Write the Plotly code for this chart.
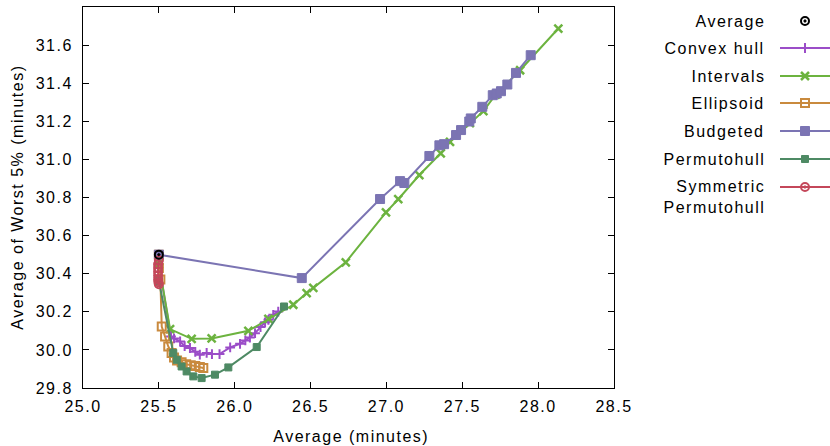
import plotly.graph_objects as go

# ---------------- data ----------------
avg_x = [25.50]
avg_y = [30.50]

convex_x = [25.50, 25.58, 25.60, 25.64, 25.67, 25.705, 25.74, 25.77, 25.815, 25.85, 25.90, 25.97, 26.035, 26.07, 26.10, 26.134, 26.17, 26.20, 26.222, 26.254, 26.287]
convex_y = [30.45, 30.07, 30.06, 30.044, 30.02, 30.01, 29.99, 29.975, 29.984, 29.978, 29.978, 30.013, 30.032, 30.05, 30.065, 30.088, 30.12, 30.145, 30.158, 30.184, 30.201]

intervals_x = [25.50, 25.574, 25.716, 25.848, 26.090, 26.222, 26.386, 26.474, 26.518, 26.732, 26.997, 27.078, 27.217, 27.358, 27.419, 27.55, 27.639, 27.72, 27.881, 28.133]
intervals_y = [30.45, 30.109, 30.058, 30.060, 30.100, 30.163, 30.237, 30.298, 30.326, 30.460, 30.722, 30.791, 30.918, 31.032, 31.092, 31.19, 31.253, 31.34, 31.468, 31.687]

ellipsoid_x = [25.50, 25.50, 25.51, 25.519, 25.541, 25.562, 25.584, 25.60, 25.62, 25.65, 25.68, 25.71, 25.74, 25.77, 25.793]
ellipsoid_y = [30.50, 30.43, 30.37, 30.123, 30.07, 30.018, 29.984, 29.96, 29.945, 29.935, 29.925, 29.92, 29.915, 29.91, 29.905]

budgeted_x = [25.50, 26.442, 26.958, 27.090, 27.118, 27.283, 27.349, 27.380, 27.459, 27.492, 27.546, 27.556, 27.632, 27.701, 27.727, 27.755, 27.797, 27.854, 27.951]
budgeted_y = [30.50, 30.377, 30.792, 30.886, 30.876, 31.018, 31.074, 31.080, 31.128, 31.154, 31.199, 31.215, 31.276, 31.337, 31.346, 31.358, 31.393, 31.454, 31.547]

permuto_x = [25.50, 25.595, 25.618, 25.650, 25.683, 25.727, 25.782, 25.870, 25.958, 26.145, 26.325]
permuto_y = [30.36, 29.984, 29.948, 29.913, 29.887, 29.861, 29.852, 29.870, 29.908, 30.015, 30.228]

sym_x = [25.50, 25.495, 25.495, 25.495, 25.495, 25.495, 25.497, 25.50]
sym_y = [30.47, 30.45, 30.43, 30.41, 30.39, 30.37, 30.355, 30.345]

legend_names = ["Average", "Convex hull", "Intervals", "Ellipsoid", "Budgeted", "Permutohull", "Symmetric<br>Permutohull"]

# ---------------- styles ----------------
FONT = "Liberation Sans, Arial, Helvetica, sans-serif"
FS = 16
colors = {
    "avg": "#000000",
    "convex": "#9b4dc8",
    "intervals": "#6cb33f",
    "ellipsoid": "#c98a3e",
    "budgeted": "#7b74b3",
    "permuto": "#4e8a64",
    "sym": "#c4475a",
}
series = [
    # key, x, y, symbol, size, marker-line width, legend index
    ("convex", convex_x, convex_y, "cross-thin", 7, 2, 1),
    ("intervals", intervals_x, intervals_y, "x-thin", 8, 2.5, 2),
    ("ellipsoid", ellipsoid_x, ellipsoid_y, "square-open", 8, 2, 3),
    ("budgeted", budgeted_x, budgeted_y, "square", 9, 1, 4),
    ("permuto", permuto_x, permuto_y, "square", 7, 1, 5),
    ("sym", sym_x, sym_y, "circle-open-dot", 8, 2, 6),
]

W, H = 830, 446
L, R, T, B = 83, 0, 7, 58
plot_right = 614
pw = W - L - R
ph = H - T - B
xdom = (plot_right - L) / pw

fig = go.Figure()

for key, xs, ys, sym, size, mlw, li in series:
    c = colors[key]
    mk = dict(symbol=sym, size=size, color=c, line=dict(color=c, width=mlw))
    fig.add_trace(go.Scatter(x=xs, y=ys, mode="lines+markers", line=dict(color=c, width=2),
                             marker=mk, showlegend=False, hoverinfo="skip"))

fig.add_trace(go.Scatter(x=avg_x, y=avg_y, mode="markers",
                         marker=dict(symbol="circle-open-dot", size=8, color="black",
                                     line=dict(color="black", width=2)),
                         showlegend=False, hoverinfo="skip"))

# ---------- manual legend on a pixel-scaled helper axis ----------
leg_y = [21, 48, 76, 103, 131, 159, 187]
text_right = 767
line_x0, line_x1, mark_x = 780, 830, 805

fig.add_trace(go.Scatter(x=[mark_x], y=[leg_y[0]], xaxis="x2", yaxis="y2", mode="markers",
                         marker=dict(symbol="circle-open-dot", size=8, color="black",
                                     line=dict(color="black", width=2)),
                         showlegend=False, hoverinfo="skip", cliponaxis=False))
for key, xs, ys, sym, size, mlw, li in series:
    c = colors[key]
    yy = leg_y[li]
    fig.add_trace(go.Scatter(x=[line_x0, line_x1], y=[yy, yy], xaxis="x2", yaxis="y2",
                             mode="lines", line=dict(color=c, width=2),
                             showlegend=False, hoverinfo="skip", cliponaxis=False))
    fig.add_trace(go.Scatter(x=[mark_x], y=[yy], xaxis="x2", yaxis="y2", mode="markers",
                             marker=dict(symbol=sym, size=size, color=c, line=dict(color=c, width=mlw)),
                             showlegend=False, hoverinfo="skip", cliponaxis=False))

annotations = []
for i, name in enumerate(legend_names):
    if "<br>" in name:
        annotations.append(dict(x=text_right, y=leg_y[i] - 11, xref="x2", yref="y2", text=name,
                                showarrow=False, xanchor="right", yanchor="top", align="right",
                                font=dict(family=FONT, size=FS, color="black")))
    else:
        annotations.append(dict(x=text_right, y=leg_y[i], xref="x2", yref="y2", text=name,
                                showarrow=False, xanchor="right", yanchor="middle", align="right",
                                font=dict(family=FONT, size=FS, color="black")))

# axis titles
annotations.append(dict(x=(351 - L) / pw, y=-(436 - (H - B)) / ph, xref="paper", yref="paper",
                        text="Average (minutes)", showarrow=False, xanchor="center", yanchor="middle",
                        font=dict(family=FONT, size=FS, color="black")))
annotations.append(dict(x=(17.5 - L) / pw, y=0.5, xref="paper", yref="paper",
                        text="Average of Worst 5% (minutes)", showarrow=False, textangle=-90,
                        xanchor="center", yanchor="middle",
                        font=dict(family=FONT, size=FS, color="black")))

axis_common = dict(showline=True, linecolor="black", linewidth=1, mirror="ticks", ticks="inside",
                   ticklen=6, tickcolor="black", tickwidth=1, showgrid=False, zeroline=False,
                   automargin=False, tickfont=dict(family=FONT, size=FS, color="black"))

fig.update_layout(
    template="none",
    width=W, height=H, autosize=False,
    margin=dict(l=L, r=R, t=T, b=B, pad=0, autoexpand=False),
    paper_bgcolor="white", plot_bgcolor="white",
    xaxis=dict(domain=[0, xdom], range=[25, 28.5], dtick=0.5, tick0=25, tickformat=".1f",
               ticklabelstandoff=4, **axis_common),
    yaxis=dict(range=[29.8, 31.8], dtick=0.2, tick0=29.8, tickformat=".1f",
               ticklabelstandoff=6, **axis_common),
    xaxis2=dict(domain=[xdom, 1], range=[plot_right, W], visible=False, fixedrange=True, automargin=False),
    yaxis2=dict(domain=[0, 1], range=[H - B, T], visible=False, anchor="x2", fixedrange=True, automargin=False),
    annotations=annotations,
    showlegend=False,
)

post = """
var gd = document.getElementsByClassName('plotly-graph-div')[0];
document.documentElement.style.margin = '0px';
document.body.style.margin = '0px';
document.body.style.overflow = 'hidden';
function spacing(){
  document.querySelectorAll('.main-svg text').forEach(function(t){ t.style.letterSpacing = '1.5px'; });
}
Plotly.relayout(gd, {width: 830, height: 446}).then(spacing);
spacing();
"""

fig.write_html("out.html", post_script=post,
               config={"responsive": False, "displayModeBar": False, "staticPlot": True},
               default_width="830px", default_height="446px")
